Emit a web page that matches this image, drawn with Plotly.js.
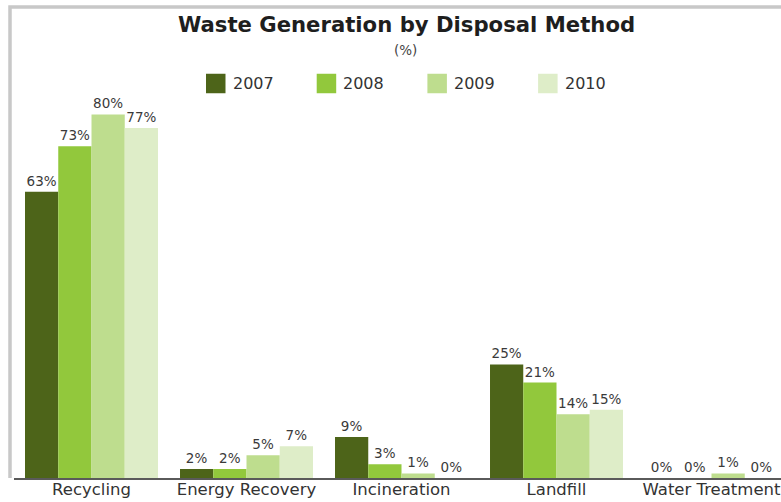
<!DOCTYPE html>
<html>
<head>
<meta charset="utf-8">
<script src="https://cdn.plot.ly/plotly-3.0.1.min.js"></script>
<style>
  html, body { margin: 0; padding: 0; overflow: hidden; background: #fff; }
  #chart { width: 800px; height: 502px; }
</style>
</head>
<body>
<div id="chart"></div>
<script>
// Waste generation by disposal method, share of total (%)
const categories = ['Recycling', 'Energy Recovery', 'Incineration', 'Landfill', 'Water Treatment'];
const years = ['2007', '2008', '2009', '2010'];
const v2007 = [63, 2, 9, 25, 0];
const v2008 = [73, 2, 3, 21, 0];
const v2009 = [80, 5, 1, 14, 1];
const v2010 = [77, 7, 0, 15, 0];
const seriesValues = [v2007, v2008, v2009, v2010];
const colors = ['#4d6419', '#92c83c', '#bedd8e', '#deedc8'];

// page geometry (px)
const W = 800, H = 502;
const M = { l: 14, r: 11, t: 100, b: 24 };
const plotW = W - M.l - M.r, plotH = H - M.t - M.b;
const px2x = px => (px - M.l) / plotW;          // pixel -> paper x
const py2y = py => (H - M.b - py) / plotH;      // pixel -> paper y

const FONT = 'DejaVu Sans, Verdana, sans-serif';

const traces = years.map((yr, i) => ({
  type: 'bar',
  name: yr,
  x: categories,
  y: seriesValues[i],
  marker: { color: colors[i], line: { width: 0 } },
  texttemplate: '%{y}%',
  textposition: 'outside',
  constraintext: 'none',
  cliponaxis: false,
  textfont: { family: FONT, size: 13.5, color: '#3a3a3a' },
  hoverinfo: 'x+y+name',
  showlegend: false
}));

// hand-placed legend: large square swatches with year labels
const legendX0 = 206, legendStep = 110.7, swatch = 19.5, legendY = 83.5;
const shapes = [];
const annotations = [];
years.forEach((yr, i) => {
  const x0 = legendX0 + i * legendStep;
  shapes.push({
    type: 'rect', xref: 'paper', yref: 'paper',
    x0: px2x(x0), x1: px2x(x0 + swatch),
    y0: py2y(legendY + swatch / 2), y1: py2y(legendY - swatch / 2),
    fillcolor: colors[i], line: { width: 0 }
  });
  annotations.push({
    xref: 'paper', yref: 'paper', x: px2x(x0 + swatch + 5), y: py2y(legendY),
    xanchor: 'left', yanchor: 'middle', showarrow: false,
    text: yr, font: { family: FONT, size: 16, color: '#333' }
  });
});

// outer frame: top and left edges
shapes.push({
  type: 'path', xref: 'paper', yref: 'paper',
  path: `M ${px2x(10)},${py2y(478)} L ${px2x(10)},${py2y(7)} L ${px2x(W + 5)},${py2y(7)}`,
  line: { color: '#c8c8c8', width: 3.5 }
});

annotations.push({
  xref: 'paper', yref: 'paper', x: px2x(405), y: py2y(50),
  xanchor: 'center', yanchor: 'middle', showarrow: false,
  text: '(%)', font: { family: FONT, size: 13.5, color: '#444' }
});

const layout = {
  width: W, height: H,
  margin: M,
  paper_bgcolor: '#fff', plot_bgcolor: '#fff',
  title: {
    text: '<b>Waste Generation by Disposal Method</b>',
    font: { family: FONT, size: 21.2, color: '#1e1e1e' },
    xref: 'container', yref: 'container',
    x: 406.5 / W, xanchor: 'center',
    y: 1 - 25 / H, yanchor: 'middle'
  },
  barmode: 'group',
  bargap: 0.142,
  bargroupgap: 0,
  xaxis: {
    type: 'category',
    showline: true, linecolor: '#5a5a5a', linewidth: 1.5,
    ticks: '', showgrid: false, zeroline: false,
    automargin: false,
    ticklabelstandoff: -4,
    tickfont: { family: FONT, size: 16.5, color: '#333' },
    fixedrange: true
  },
  yaxis: {
    range: [0, plotH / 4.545],
    visible: false, showgrid: false, zeroline: false,
    automargin: false, fixedrange: true
  },
  showlegend: false,
  shapes: shapes,
  annotations: annotations
};

Plotly.newPlot('chart', traces, layout, { displayModeBar: false, staticPlot: true });
</script>
</body>
</html>
